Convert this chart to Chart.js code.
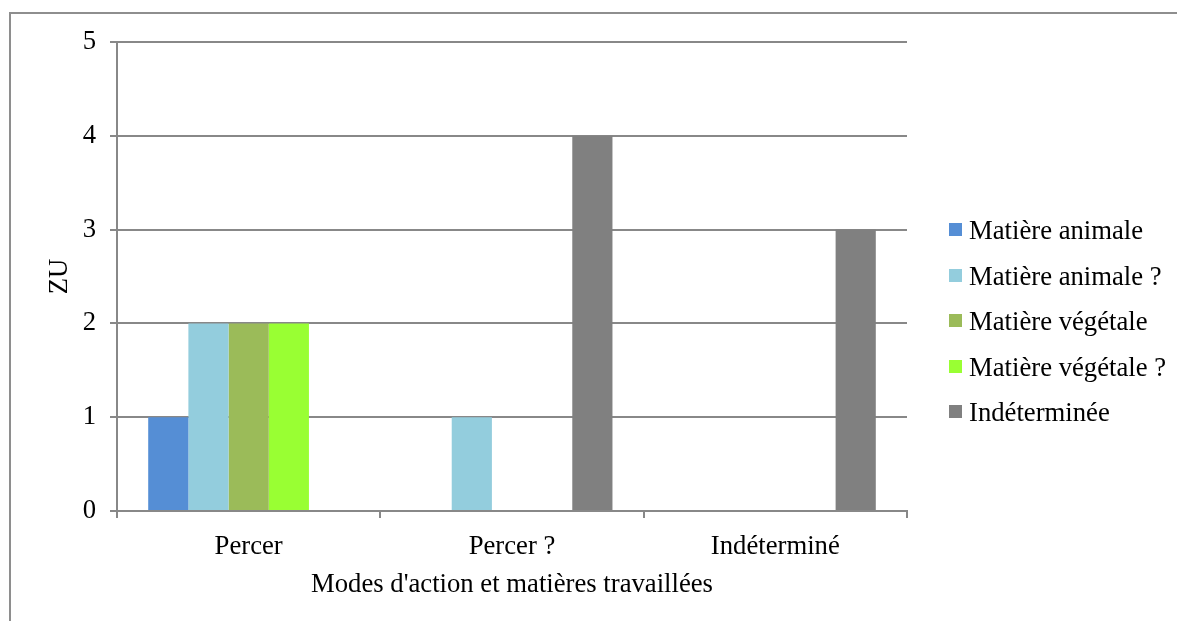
<!DOCTYPE html>
<html>
<head>
<meta charset="utf-8">
<script src="https://cdn.jsdelivr.net/npm/chart.js@4"></script>
<style>
  html, body { margin: 0; padding: 0; background: #fff; overflow: hidden; }
  #wrap { position: relative; width: 1177px; height: 621px; }
  #frame { position: absolute; left: 9px; top: 12px; width: 1200px; height: 700px;
           border-left: 2px solid #8e8e8e; border-top: 2px solid #8e8e8e; }
  #c { position: absolute; left: 0; top: 0; }
  #legend { position: absolute; left: 949px; top: 214px; font-family: "Liberation Serif", serif;
            font-size: 26.7px; color: #000; }
  .item { position: absolute; left: 0; height: 32px; white-space: nowrap; }
  .box { position: absolute; left: 0; top: 9px; width: 13px; height: 13px; }
  .lbl { position: absolute; left: 20px; top: 0; line-height: 32px; }
</style>
</head>
<body>
<div id="wrap">
  <div id="frame"></div>
  <canvas id="c" width="1177" height="621"></canvas>
  <div id="legend"></div>
</div>
<script>
const categories = ["Percer", "Percer ?", "Indéterminé"];
const seriesNames = ["Matière animale", "Matière animale ?", "Matière végétale", "Matière végétale ?", "Indéterminée"];
const matiereAnimale = [1, 0, 0];
const matiereAnimaleQ = [2, 1, 0];
const matiereVegetale = [2, 0, 0];
const matiereVegetaleQ = [2, 0, 0];
const indeterminee = [0, 4, 3];
const seriesColors = ["#558ED5", "#93CDDD", "#9BBB59", "#99FF33", "#808080"];
const yTicks = [0, 1, 2, 3, 4, 5];
const xTitle = "Modes d'action et matières travaillées";
const yTitle = "ZU";

const seriesValues = [matiereAnimale, matiereAnimaleQ, matiereVegetale, matiereVegetaleQ, indeterminee];
const FONT = "Liberation Serif";
const FS = 26.7;
const GRID = "#888888";

const datasets = seriesNames.map((n, i) => ({
  label: n,
  data: seriesValues[i],
  backgroundColor: seriesColors[i],
  borderWidth: 0,
  categoryPercentage: 0.763,
  barPercentage: 1.0
}));

new Chart(document.getElementById("c"), {
  type: "bar",
  data: { labels: categories, datasets },
  options: {
    responsive: false,
    animation: false,
    devicePixelRatio: 1,
    layout: { padding: { left: 44, right: 270, top: 42, bottom: 20 } },
    plugins: { legend: { display: false }, tooltip: { enabled: false } },
    scales: {
      x: {
        offset: true,
        grid: { offset: true, drawOnChartArea: false, drawTicks: true, tickLength: 7, color: GRID, lineWidth: 2 },
        border: { display: true, color: GRID, width: 2 },
        ticks: { color: "#000", font: { family: FONT, size: FS }, padding: 13 },
        title: { display: true, text: xTitle, color: "#000", font: { family: FONT, size: FS }, padding: 0 },
        afterFit: (s) => { s.height = 90; }
      },
      y: {
        min: 0, max: 5,
        afterBuildTicks: (s) => { s.ticks = yTicks.map(v => ({ value: v })); },
        grid: { color: GRID, lineWidth: 2, tickLength: 7, drawTicks: true },
        border: { display: true, color: GRID, width: 2 },
        ticks: { color: "#000", font: { family: FONT, size: FS }, padding: 14 },
        title: { display: true, text: yTitle, color: "#000", font: { family: FONT, size: FS }, padding: 0 },
        afterFit: (s) => { s.width = 73; }
      }
    }
  }
});

const legend = document.getElementById("legend");
seriesNames.forEach((n, i) => {
  const it = document.createElement("div");
  it.className = "item";
  it.style.top = (i * 45.5) + "px";
  const b = document.createElement("div");
  b.className = "box";
  b.style.background = seriesColors[i];
  const t = document.createElement("div");
  t.className = "lbl";
  t.textContent = n;
  it.appendChild(b); it.appendChild(t);
  legend.appendChild(it);
});
</script>
</body>
</html>
